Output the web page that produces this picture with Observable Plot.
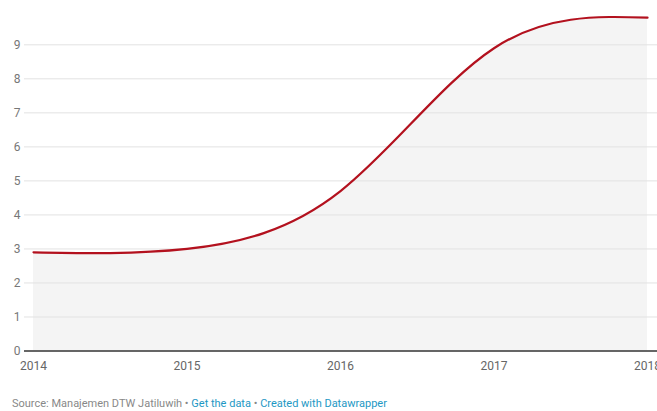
<!DOCTYPE html>
<html><head><meta charset="utf-8">
<script src="https://cdn.jsdelivr.net/npm/d3@7"></script>
<script src="https://cdn.jsdelivr.net/npm/@observablehq/plot@0.6"></script>
<style>
body{margin:0;background:#fff;font-family:Roboto,sans-serif;}
#chart svg{display:block;overflow:visible}
.src{font-size:11px;color:#888;margin:17px 0 0 12px;white-space:nowrap}
.src a{color:#1d98c4;text-decoration:none}
</style></head><body>
<div id="chart"></div>
<div class="src">Source: Manajemen DTW Jatiluwih • <a>Get the data</a> • <a>Created with Datawrapper</a></div>
<script>
const years = [2014, 2015, 2016, 2017, 2018];
const values = [2.9, 3.0, 4.7, 8.9, 9.8];
const yTicks = [0,1,2,3,4,5,6,7,8,9];
const data = years.map((y,i)=>({year:y, value:values[i]}));
const chart = Plot.plot({
  width: 657, height: 380,
  marginLeft: 33, marginRight: 10, marginTop: 10.3, marginBottom: 29.5,
  style:{fontFamily:"Roboto, sans-serif", fontSize:"12px", color:"#666", overflow:"visible"},
  x:{domain:[2014,2018], ticks: years, tickFormat:d=>String(d), label:null},
  y:{domain:[0,10], label:null},
  marks:[
    Plot.areaY(data,{x:"year", y:"value", curve:"natural", fill:"#f4f4f4"}),
    Plot.ruleY(yTicks.slice(1),{stroke:"#e2e2e2", strokeWidth:1, insetLeft:-9, insetRight:-10}),
    Plot.axisY(yTicks,{tickSize:0, tickPadding:13, fontSize:12, fill:"#777"}),
    Plot.axisX(years,{tickSize:0, tickPadding:10, fontSize:12, fill:"#666", tickFormat:d=>String(d)}),
    Plot.line(data,{x:"year", y:"value", curve:"natural", stroke:"#b3111e", strokeWidth:2.2}),
    Plot.ruleY([0],{stroke:"#333", strokeWidth:1.5, insetLeft:-9, insetRight:-10})
  ]
});
document.getElementById("chart").appendChild(chart);
</script>
</body></html>
